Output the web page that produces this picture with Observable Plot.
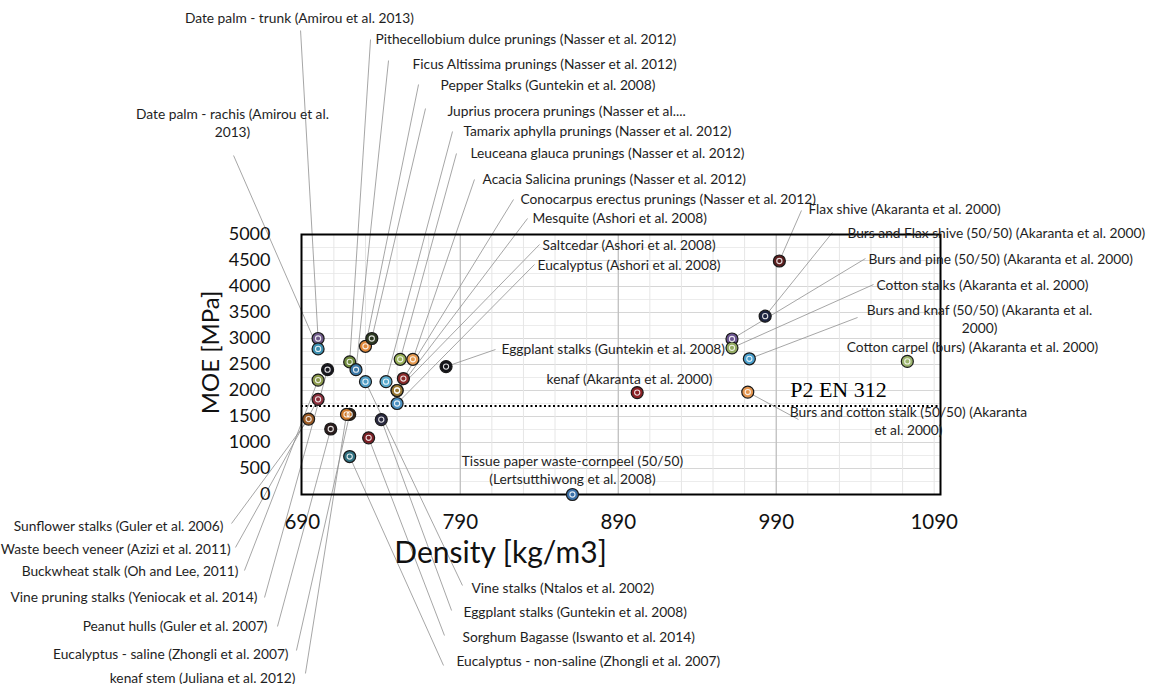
<!DOCTYPE html>
<html><head><meta charset="utf-8">
<script src="https://cdn.jsdelivr.net/npm/d3@7"></script>
<script src="https://cdn.jsdelivr.net/npm/@observablehq/plot@0.6"></script>
<style>body{margin:0;background:#fff}#chart svg{display:block}</style>
</head><body><div id="chart"></div>
<script>
// ---- data ----
const materials = [
  "Date palm - trunk (Amirou et al. 2013)",
  "Date palm - rachis (Amirou et al.\n2013)",
  "Pithecellobium dulce prunings (Nasser et al. 2012)",
  "Ficus Altissima prunings (Nasser et al. 2012)",
  "Pepper Stalks (Guntekin et al. 2008)",
  "Juprius procera prunings (Nasser et al....",
  "Tamarix aphylla prunings (Nasser et al. 2012)",
  "Leuceana glauca prunings (Nasser et al. 2012)",
  "Acacia Salicina prunings (Nasser et al. 2012)",
  "Conocarpus erectus prunings (Nasser et al. 2012)",
  "Mesquite (Ashori et al. 2008)",
  "Saltcedar (Ashori et al. 2008)",
  "Eucalyptus (Ashori et al. 2008)",
  "Eggplant stalks (Guntekin et al. 2008)",
  "kenaf (Akaranta et al. 2000)",
  "Tissue paper waste-cornpeel (50/50)\n(Lertsutthiwong et al. 2008)",
  "Flax shive (Akaranta et al. 2000)",
  "Burs and Flax shive (50/50) (Akaranta et al. 2000)",
  "Burs and pine (50/50) (Akaranta et al. 2000)",
  "Cotton stalks (Akaranta et al. 2000)",
  "Burs and knaf (50/50) (Akaranta et al.\n2000)",
  "Cotton carpel (burs) (Akaranta et al. 2000)",
  "Burs and cotton stalk (50/50) (Akaranta\net al. 2000)",
  "Sunflower stalks (Guler et al. 2006)",
  "Waste beech veneer (Azizi et al. 2011)",
  "Buckwheat stalk (Oh and Lee, 2011)",
  "Vine pruning stalks (Yeniocak et al. 2014)",
  "Peanut hulls (Guler et al. 2007)",
  "Eucalyptus - saline (Zhongli et al. 2007)",
  "kenaf stem (Juliana et al. 2012)",
  "Vine stalks (Ntalos et al. 2002)",
  "Eggplant stalks (Guntekin et al. 2008)",
  "Sorghum Bagasse (Iswanto et al. 2014)",
  "Eucalyptus - non-saline (Zhongli et al. 2007)"
];
const density = [700,700,720,724,730,734,743,752,760,754,750,750,750,781,902,861,992,983,962,962,973,1073,972,694,700,700,706,708,720,718,730,740,732,720];
const moe = [3000,2800,2550,2400,2850,3000,2170,2600,2600,2230,2000,2000,1750,2460,1960,0,4490,3430,2990,2820,2610,2560,1970,1450,1830,2200,2400,1260,1540,1540,2170,1440,1090,730];
const colors = ["#6f5a8a","#3d8fb0","#6f8a3c","#3b78a8","#e0883a","#2e3a22","#58a9cc","#98b058","#e59a50","#8a2a2a","#8f9448","#9a7a35","#4a8fc0","#141418","#8b2025","#3a70a8","#5b1e1e","#1d2440","#6b5590","#93ab62","#4a9fcc","#9db56f","#e3954f","#9a5a25","#8a2f3c","#8c9a4d","#16161e","#2b1c1c","#3a2412","#d07a2a","#4f9cc4","#2a2a40","#7a1f25","#2f7080"];

// annotation layout (in data units: density, MOE)
const textDensity = [688.2,645.8,736.3,759.8,777.5,781.9,792.0,796.5,804.1,828.1,835.7,842.1,838.9,816.1,897.1,861.0,1010.4,1035.1,1048.4,1053.5,1118.7,1114.2,1073.7,640.1,644.6,649.6,661.6,668.0,681.3,685.7,797.1,792.0,791.4,787.6];
const textMOE = [9173,7154,8769,8288,7885,7385,7000,6577,6077,5692,5327,4808,4423,2808,2231,481,5500,5038,4538,4038,3385,2846,1423,-596,-1038,-1462,-1962,-2519,-3058,-3519,-1788,-2250,-2731,-3192];
const leaderDensity = [688.9,646.5,733.2,744.6,763.6,768.0,785.1,787.6,799.0,823.7,832.6,840.2,837.0,812.3,null,null,1006.0,1025.6,1046.5,1051.6,1041.5,null,1004.1,645.2,647.7,653.4,666.1,674.3,686.3,692.0,791.4,784.5,780.0,779.4];
const leaderMOE = [8923,6519,8750,8346,7885,7423,6981,6558,6058,5673,5308,4808,4423,2788,null,null,5462,5038,4538,4038,3404,null,1442,-558,-1019,-1462,-1981,-2538,-3000,-3442,-1750,-2231,-2712,-3288];
const textAlign = ["middle","middle","start","start","start","start","start","start","start","start","start","start","start","start","middle","middle","start","start","start","start","middle","middle","middle","end","end","end","end","end","end","end","start","start","start","start"];

const xTicks = [690,790,890,990,1090];
const xMajorGrid = [790,890,990];
const xMinorGrid = d3.range(710,1094,20);
const yTicks = d3.range(0,5001,500);
const yMinorGrid = d3.range(250,5000,500);
const en312 = 1700;
const en312Label = "P2 EN 312";
const en312LabelPos = [1029.4, 2019];
const xTitle = "Density [kg/m3]";
const xTitlePos = [815.5, -1140];
const yTitle = "MOE [MPa]";
const yTitlePos = [632.5, 2731];

const idx = d3.range(materials.length);
const withLeader = idx.filter(i => leaderDensity[i] != null);
const font = "Lato, 'Open Sans', sans-serif";

const labelMark = (align) => Plot.text(idx.filter(i => textAlign[i] === align), {
  x: i => textDensity[i], y: i => textMOE[i], text: i => materials[i],
  textAnchor: align, lineAnchor: "middle", lineHeight: 1.3,
  fontSize: 13.75, fill: "#1e1e1e", fontFamily: font
});

const chart = Plot.plot({
  width: 1149, height: 684,
  marginLeft: 301, marginRight: 209, marginTop: 234, marginBottom: 190,
  style: {fontFamily: font, background: "#fff", overflow: "visible"},
  x: {domain: [689.5, 1094]},
  y: {domain: [0, 5000]},
  marks: [
    Plot.ruleY(yMinorGrid, {stroke: "#ececec", strokeWidth: 1}),
    Plot.ruleY(yTicks, {stroke: "#d6d6d6", strokeWidth: 1}),
    Plot.ruleX(xMinorGrid, {stroke: "#e6e6e6", strokeWidth: 1}),
    Plot.ruleX(xMajorGrid, {stroke: "#b5b5b5", strokeWidth: 1}),
    Plot.ruleY([en312], {stroke: "#000", strokeWidth: 2, strokeDasharray: "2,2.5"}),
    Plot.link(withLeader, {
      x1: i => leaderDensity[i], y1: i => leaderMOE[i],
      x2: i => density[i], y2: i => moe[i],
      stroke: "#8f8f8f", strokeWidth: 0.8
    }),
    Plot.frame({stroke: "#000", strokeWidth: 2}),
    Plot.dot(idx, {x: i => density[i], y: i => moe[i], r: 6, fill: i => colors[i], stroke: "#1a1a1a", strokeWidth: 1.2}),
    Plot.dot(idx, {x: i => density[i], y: i => moe[i], r: 2.6, fill: "none", stroke: "#ffffff", strokeWidth: 1.1, strokeOpacity: 0.85}),
    labelMark("start"),
    labelMark("end"),
    labelMark("middle"),
    Plot.text([en312Label], {x: en312LabelPos[0], y: en312LabelPos[1], fontSize: 22, fontFamily: "'Liberation Serif', 'DejaVu Serif', serif", fill: "#000"}),
    Plot.axisX(xTicks, {tickSize: 0, tickPadding: 20, fontSize: 20.5, fill: "#111", tickFormat: d3.format("d")}),
    Plot.axisY(yTicks, {tickSize: 0, tickPadding: 31, fontSize: 18, fill: "#111", tickFormat: d3.format("d")}),
    Plot.text([xTitle], {x: xTitlePos[0], y: xTitlePos[1], fontSize: 30, fill: "#111"}),
    Plot.text([yTitle], {x: yTitlePos[0], y: yTitlePos[1], fontSize: 24, rotate: -90, fill: "#111"})
  ]
});
document.getElementById("chart").appendChild(chart);
</script>
</body></html>
